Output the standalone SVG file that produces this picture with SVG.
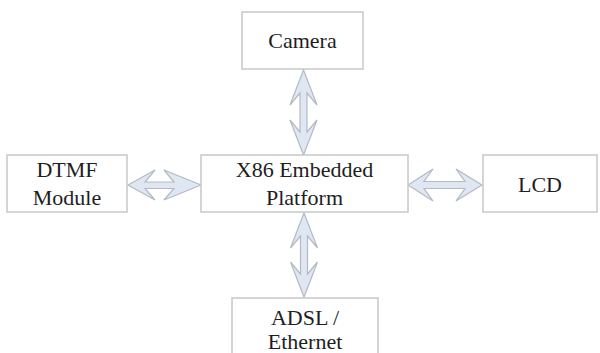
<svg xmlns="http://www.w3.org/2000/svg" width="600" height="353" viewBox="0 0 600 353">
<style>
.box{fill:#fff;stroke:#c8c8c8;stroke-width:1.5}
.lbl{font-family:"Liberation Serif","Times New Roman",serif;font-size:22px;fill:#1e1e1e;text-anchor:middle}
.arr{fill:#dfe7f3;stroke:#b4bac4;stroke-width:1.2;stroke-linejoin:miter}
</style>
<rect width="600" height="353" fill="#fff"/>
<g id="connectors">
<path class="arr" d="M303.5,70 L317,105 L307,93 L307,132 L317,120 L303.5,155 L290,120 L300,132 L300,93 L290,105 Z"/>
<path class="arr" d="M304,213 L317.5,248 L307.5,236 L307.5,274 L317.5,262 L304,297 L290.5,262 L300.5,274 L300.5,236 L290.5,248 Z"/>
<path class="arr" d="M128,185 L155,170 L145,182 L174,182 L164,170 L201,185 L164,200 L174,188.5 L145,188.5 L155,200 Z"/>
<path class="arr" d="M408,185 L433,169 L424,181.5 L465,181.5 L456,169 L482,185 L456,201 L465,188.5 L424,188.5 L433,201 Z"/>
</g>
<g id="camera">
<rect class="box" x="242" y="12" width="121" height="57"/>
<text class="lbl" x="302.5" y="48">Camera</text>
</g>
<g id="platform">
<rect class="box" x="201" y="155" width="207" height="57"/>
<text class="lbl" x="304.5" y="177">X86 Embedded</text>
<text class="lbl" x="304.5" y="205">Platform</text>
</g>
<g id="dtmf">
<rect class="box" x="7" y="155" width="120" height="57"/>
<text class="lbl" x="67" y="177">DTMF</text>
<text class="lbl" x="67" y="205">Module</text>
</g>
<g id="lcd">
<rect class="box" x="483" y="155" width="114" height="57"/>
<text class="lbl" x="540" y="192">LCD</text>
</g>
<g id="adsl">
<rect class="box" x="232" y="298" width="146" height="60"/>
<text class="lbl" x="305" y="325">ADSL /</text>
<text class="lbl" x="305" y="349">Ethernet</text>
</g>
</svg>
